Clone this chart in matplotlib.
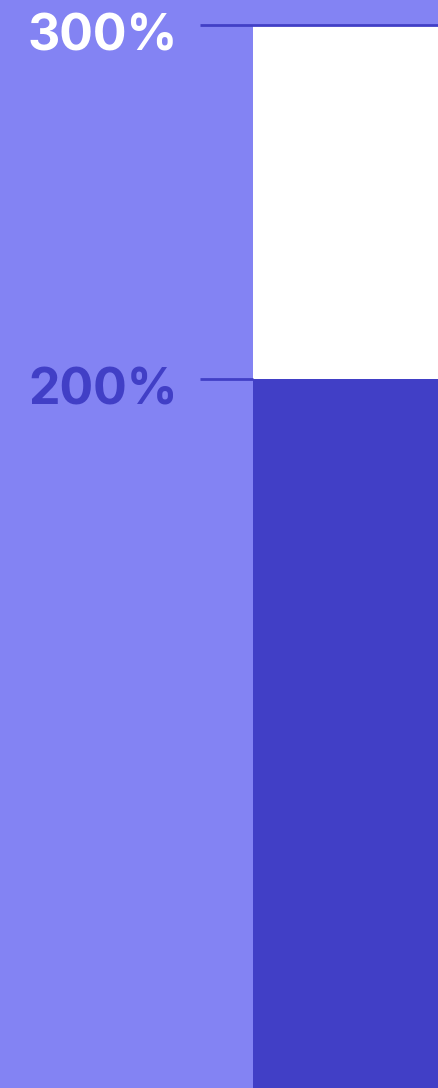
import matplotlib.pyplot as plt

# stacked bar: lower segment and upper segment (percent)
segments = ['base', 'extra']
seg_values = [200, 100]
tick_values = [300, 200]
tick_labels = ['300%', '200%']

bg = '#8383f3'
dark = '#413fc6'
seg_colors = [dark, 'white']
label_colors = ['white', dark]

plt.rcParams['font.family'] = ['Inter', 'DejaVu Sans']

fig = plt.figure(figsize=(4.38, 10.88), dpi=100)
fig.patch.set_facecolor(bg)
ax = fig.add_axes([0, 0, 1, 1])
ax.set_facecolor(bg)

bottom = 0
for name, v, c in zip(segments, seg_values, seg_colors):
    ax.bar(0, v, width=1, bottom=bottom, align='edge', color=c, linewidth=0)
    bottom += v

ax.set_xlim(-253 / 185, 1)
ax.set_ylim(0, 307)

# tick marks
x_tick_start = -53 / 185
for t, lab, c in zip(tick_values, tick_labels, label_colors):
    x_end = 1 if t == max(tick_values) else 0
    ax.plot([x_tick_start, x_end], [t, t], color=dark, lw=2, solid_capstyle='butt')
    ax.annotate(lab, xy=(x_tick_start, t), xytext=(-22, -7), textcoords='offset pixels',
                ha='right', va='center_baseline', fontsize=36, fontweight='bold', color=c)

ax.axis('off')
fig.savefig('out.png', dpi=100, facecolor=bg)
